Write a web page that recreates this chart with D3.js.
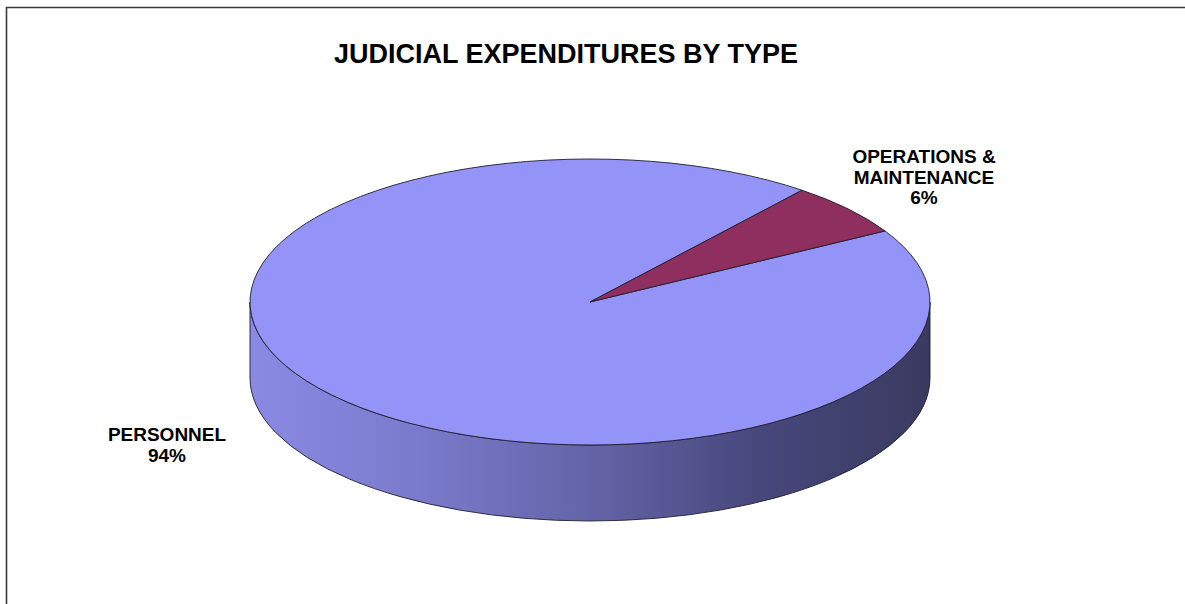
<!DOCTYPE html>
<html>
<head>
<meta charset="utf-8">
<script src="https://cdn.jsdelivr.net/npm/d3@7"></script>
<style>
  html, body { margin: 0; padding: 0; background: #fff; }
  svg { display: block; font-family: "Liberation Sans", Arial, sans-serif; }
</style>
</head>
<body>
<svg id="chart" width="1185" height="604"></svg>
<script>
// Expenditure shares
const categories = ["PERSONNEL", "OPERATIONS & MAINTENANCE"];
const shares = [94, 6];
const sliceColors = ["#9494f8", "#8f2f5f"];
const labelLines = [["PERSONNEL", "94%"], ["OPERATIONS &", "MAINTENANCE", "6%"]];

const svg = d3.select("#chart");
const W = 1185, H = 604;

// frame lines (top and left)
svg.append("path")
  .attr("d", `M6.5,${H} L6.5,7.5 L${W},7.5`)
  .attr("fill", "none").attr("stroke", "#3a3a3a").attr("stroke-width", 1.6);

svg.append("text")
  .attr("x", 566).attr("y", 63)
  .attr("text-anchor", "middle")
  .attr("font-size", 27).attr("font-weight", "bold")
  .attr("fill", "#000")
  .text("JUDICIAL EXPENDITURES BY TYPE");

// 3D pie geometry
const cx = 590, cy = 302, rx = 340, ry = 143, depth = 76;
const deg = Math.PI / 180;

const pie = d3.pie().sort(null).value(d => d)
  .startAngle(60.2 * deg).endAngle(60.2 * deg + 2 * Math.PI);
const arcs = pie(shares);

const pt = (a, dy = 0) => [cx + rx * Math.sin(a), cy - ry * Math.cos(a) + dy];

const defs = svg.append("defs");
const grad = defs.append("linearGradient")
  .attr("id", "sideShade").attr("gradientUnits", "userSpaceOnUse")
  .attr("x1", cx - rx).attr("y1", 0).attr("x2", cx + rx).attr("y2", 0);
[["0%", "#8a8ae4"], ["25%", "#7a7acc"], ["50%", "#6464a8"], ["75%", "#47477c"], ["100%", "#3a3a60"]]
  .forEach(([o, c]) => grad.append("stop").attr("offset", o).attr("stop-color", c));

// front wall: part of each slice lying between east (90°) and west (270°)
const sides = svg.append("g");
arcs.forEach((d, i) => {
  for (let k = -1; k <= 1; k++) {
    const lo = 90 * deg + k * 2 * Math.PI, hi = 270 * deg + k * 2 * Math.PI;
    const a0 = Math.max(d.startAngle, lo), a1 = Math.min(d.endAngle, hi);
    if (a1 <= a0) continue;
    const p0 = pt(a0), p1 = pt(a1), q1 = pt(a1, depth), q0 = pt(a0, depth);
    const large = (a1 - a0) > Math.PI ? 1 : 0;
    const dstr = `M${p0}A${rx},${ry} 0 ${large} 1 ${p1}L${q1}A${rx},${ry} 0 ${large} 0 ${q0}Z`;
    sides.append("path")
      .attr("d", dstr)
      .attr("fill", i === 0 ? "url(#sideShade)" : d3.color(sliceColors[i]).darker(1))
      .attr("stroke", "#1e1e2e").attr("stroke-width", 0.9)
      .attr("stroke-linejoin", "round");
  }
});

// top faces
const tops = svg.append("g");
arcs.forEach((d, i) => {
  const p0 = pt(d.startAngle), p1 = pt(d.endAngle);
  const large = (d.endAngle - d.startAngle) > Math.PI ? 1 : 0;
  tops.append("path")
    .attr("d", `M${cx},${cy}L${p0}A${rx},${ry} 0 ${large} 1 ${p1}Z`)
    .attr("fill", sliceColors[i])
    .attr("stroke", "#1e1e2e").attr("stroke-width", 0.9)
    .attr("stroke-linejoin", "round");
});

// labels
const labelPos = [[167, 441], [924, 163]];
labelLines.forEach((lines, i) => {
  const t = svg.append("text")
    .attr("text-anchor", "middle")
    .attr("font-size", 19).attr("font-weight", "bold").attr("fill", "#000");
  lines.forEach((s, j) => {
    t.append("tspan").attr("x", labelPos[i][0]).attr("y", labelPos[i][1] + j * 20.5).text(s);
  });
});
</script>
</body>
</html>
